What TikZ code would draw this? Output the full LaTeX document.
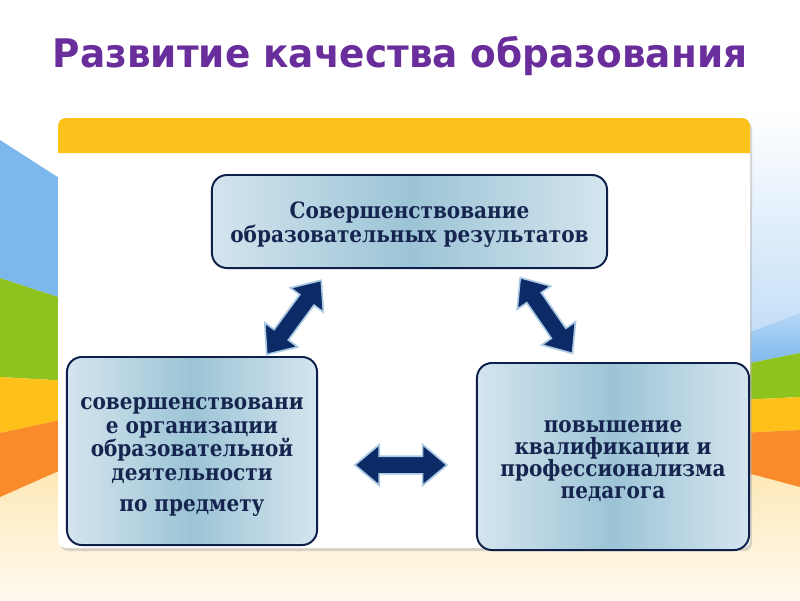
\documentclass[tikz,border=0pt]{standalone}
\usepackage{fontspec}
\newfontfamily\titlefont{DejaVu Sans}[FakeStretch=0.95]
\newfontfamily\boxfont{DejaVu Serif}[FakeStretch=0.89]
\usepackage{xcolor}
\usetikzlibrary{shapes.arrows}
\definecolor{Purple}{HTML}{6A2D9C}
\definecolor{Navy}{HTML}{0F1F4B}
\definecolor{Ink}{HTML}{15254F}
\definecolor{BoxL}{HTML}{D4E5EE}
\definecolor{BoxD}{HTML}{9CC4D6}
\definecolor{ArrF}{HTML}{0C2A66}
\definecolor{ArrE}{HTML}{A9C9E2}
\definecolor{Gold}{HTML}{FCC21C}
\definecolor{SkyB}{HTML}{7CB7EE}
\definecolor{LeafG}{HTML}{8DC21F}
\definecolor{SunY}{HTML}{FDC11A}
\definecolor{Tang}{HTML}{F98B2B}
\definecolor{Sand}{HTML}{FCE2A0}
\definecolor{Cream}{HTML}{FFFAF0}

\begin{document}
\begin{tikzpicture}[x=0.025cm,y=-0.025cm,
    box/.style={draw=Navy,line width=1.4pt,rounded corners=0.375cm,
      left color=BoxL,right color=BoxL,middle color=BoxD,inner sep=0pt},
    boxtext/.style={text=Ink,align=center,inner sep=0pt,
      font=\boxfont\bfseries\fontsize{16}{#1}\selectfont},
    dblarr/.style={double arrow,fill=ArrF,draw=ArrE,line width=1.2pt,
      inner sep=0.2cm,double arrow head extend=0.29cm,
      double arrow tip angle=80,minimum height=2.3cm,sloped}]
  % background
  \useasboundingbox (0,0) rectangle (800,600);
  \fill[white] (0,0) rectangle (800,600);
  \shade[top color=Sand,bottom color=Cream] (0,420) rectangle (800,600);
  \fill[SkyB] (0,140) -- (70,185) -- (70,301) -- (0,278) -- cycle;
  \fill[LeafG] (0,278) -- (70,301) -- (70,381) -- (0,377) -- cycle;
  \fill[SunY] (0,377) -- (70,381) -- (70,418) -- (0,433) -- cycle;
  \fill[Tang] (0,433) -- (70,418) -- (70,466) -- (0,497) -- cycle;
  \shade[top color=white,bottom color=SkyB!45] (740,110) rectangle (800,334);
  \shade[top color=SkyB!55,bottom color=SkyB] (740,336) -- (800,313) -- (800,353) -- (740,365) -- cycle;
  \fill[LeafG] (740,365) -- (800,353) -- (800,397) -- (740,400) -- cycle;
  \fill[SunY] (740,400) -- (800,397) -- (800,430) -- (740,433) -- cycle;
  \fill[Tang] (740,433) -- (800,430) -- (800,487) -- (740,471) -- cycle;
  % panel
  \fill[black!30,opacity=0.5,rounded corners=0.2cm] (60,121) rectangle (752,551);
  \fill[white,rounded corners=0.2cm] (58,118) rectangle (750,548);
  \fill[Gold] (58,153) [rounded corners=0.2cm] -- (58,118) -- (750,118)
    [sharp corners] -- (750,153) -- cycle;
  % title
  \node[anchor=base,text=Purple,font=\titlefont\bfseries\fontsize{28}{32}\selectfont]
    (title) at (400,67) {Развитие качества образования};
  % boxes
  \node[box,minimum width=9.875cm,minimum height=2.325cm] (res) at (409.5,221.5) {};
  \node[box,minimum width=6.25cm,minimum height=4.7cm] (org) at (192,451) {};
  \node[box,minimum width=6.8cm,minimum height=4.675cm] (ped) at (613,456.5) {};
  \node[boxtext=16.5] (resT) at ([yshift=-0.08cm]res.center)
    {Совершенствование\\образовательных результатов};
  \node[boxtext=17] (orgT) at ([yshift=-0.15cm]org.center)
    {совершенствовани\\е организации\\образовательной\\деятельности\\[5pt]по предмету};
  \node[boxtext=15.7] (pedT) at ([yshift=-0.12cm]ped.center)
    {повышение\\квалификации и\\профессионализма\\педагога};
  % arrows
  \path ([xshift=2.965cm]res.south west) -- node[dblarr,pos=0.556] (a1) {}
    ([xshift=4.99cm]org.north west);
  \path ([xshift=7.58cm]res.south west) -- node[dblarr] (a2) {}
    ([xshift=2.56cm]ped.north west);
  \path ([yshift=-0.35cm]org.east) -- node[dblarr,pos=0.525] (a3) {}
    ([yshift=-0.35cm]org.east -| ped.west);
\end{tikzpicture}
\end{document}
